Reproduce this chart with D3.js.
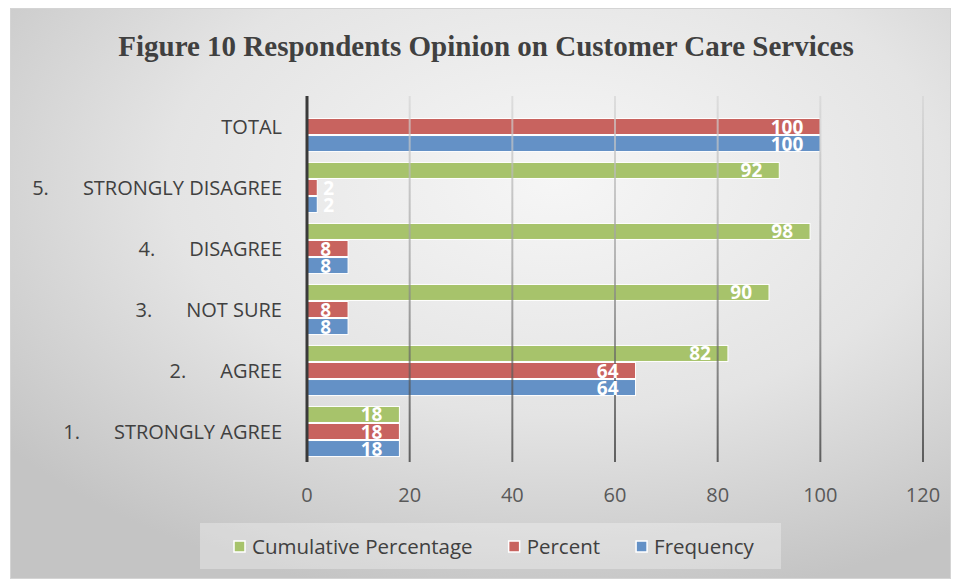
<!DOCTYPE html>
<html>
<head>
<meta charset="utf-8">
<script src="https://cdn.jsdelivr.net/npm/d3@7"></script>
<style>
  body { margin: 0; background: #fff; }
  svg { display: block; }
</style>
</head>
<body>
<div id="chart"></div>
<script>
const categories = ["TOTAL", "5.|STRONGLY DISAGREE", "4.|DISAGREE", "3.|NOT SURE", "2.|AGREE", "1.|STRONGLY AGREE"]
const seriesNames = ["Cumulative Percentage", "Percent", "Frequency"]
const cumulative = [null, 92, 98, 90, 82, 18]
const percent = [100, 2, 8, 8, 64, 18]
const frequency = [100, 2, 8, 8, 64, 18]
const xTicks = [0, 20, 40, 60, 80, 100, 120]
const colors = ["#a7c36b", "#c8635f", "#6491c6"]

const W = 959, H = 581
const font = "'Open Sans', sans-serif"

const svg = d3.select("#chart").append("svg").attr("width", W).attr("height", H)
const defs = svg.append("defs")

const bg = defs.append("radialGradient").attr("id", "bg")
  .attr("cx", "58%").attr("cy", "30%").attr("r", "75%")
bg.append("stop").attr("offset", "0%").attr("stop-color", "#f6f6f6")
bg.append("stop").attr("offset", "55%").attr("stop-color", "#e4e4e4")
bg.append("stop").attr("offset", "100%").attr("stop-color", "#c4c4c4")

const grid = defs.append("linearGradient").attr("id", "grid")
  .attr("x1", 0).attr("y1", 0).attr("x2", 0).attr("y2", 1)
grid.append("stop").attr("offset", "0%").attr("stop-color", "#d6d6d6")
grid.append("stop").attr("offset", "45%").attr("stop-color", "#9a9a9a")
grid.append("stop").attr("offset", "100%").attr("stop-color", "#2a2a2a")

const blur = defs.append("filter").attr("id", "soft")
blur.append("feGaussianBlur").attr("stdDeviation", 1.5)

svg.append("rect")
  .attr("x", 10.5).attr("y", 8.5).attr("width", 940).attr("height", 570)
  .attr("fill", "url(#bg)").attr("stroke", "#d4d4d4")

svg.append("text")
  .attr("x", 486).attr("y", 56)
  .attr("text-anchor", "middle")
  .attr("font-family", "'Liberation Serif', 'Times New Roman', serif")
  .attr("font-weight", "bold")
  .attr("font-size", 29)
  .attr("fill", "#404040")
  .text("Figure 10 Respondents Opinion on Customer Care Services")

const x = d3.scaleLinear().domain([0, 120]).range([307, 923])
const y0 = d3.scaleBand().domain(categories).range([96, 462])
const y1 = d3.scaleBand().domain(seriesNames).range([0, y0.bandwidth()])
  .paddingInner(0.06).paddingOuter(0.32)

const seriesValues = [cumulative, percent, frequency]
const rows = []
categories.forEach((c, i) => {
  seriesNames.forEach((s, j) => {
    const v = seriesValues[j][i]
    if (v !== null) rows.push({ cat: c, series: s, value: v, color: colors[j] })
  })
})

// gridline shadows
svg.append("g")
  .selectAll("line")
  .data(xTicks.slice(1))
  .enter()
  .append("line")
  .attr("x1", (d) => x(d) + 1.5).attr("x2", (d) => x(d) + 1.5)
  .attr("y1", 96).attr("y2", 462)
  .attr("stroke", "#ffffff").attr("stroke-opacity", 0.7)
  .attr("stroke-width", 6).attr("filter", "url(#soft)")

svg.append("g")
  .selectAll("rect")
  .data(rows)
  .enter()
  .append("rect")
  .attr("x", x(0))
  .attr("y", (d) => y0(d.cat) + y1(d.series))
  .attr("width", (d) => x(d.value) - x(0))
  .attr("height", y1.bandwidth())
  .attr("fill", (d) => d.color)
  .attr("stroke", "#ffffff")
  .attr("stroke-width", 1)

// gridlines drawn over bars, semi transparent
svg.append("g")
  .selectAll("rect")
  .data(xTicks.slice(1))
  .enter()
  .append("rect")
  .attr("x", (d) => x(d) - 1)
  .attr("y", 96)
  .attr("width", 2)
  .attr("height", 366)
  .attr("fill", "url(#grid)")
  .attr("opacity", 0.7)

svg.append("line")
  .attr("x1", x(0)).attr("x2", x(0))
  .attr("y1", 96).attr("y2", 462)
  .attr("stroke", "#3a3a3a").attr("stroke-width", 3)

svg.append("g")
  .selectAll("text")
  .data(rows)
  .enter()
  .append("text")
  .attr("x", (d) => (x(d.value) - x(0) > 30 ? x(d.value) - 17 : x(d.value) + 6))
  .attr("y", (d) => y0(d.cat) + y1(d.series) + y1.bandwidth() / 2 + 7)
  .attr("text-anchor", (d) => (x(d.value) - x(0) > 30 ? "end" : "start"))
  .attr("font-family", font)
  .attr("font-weight", "bold")
  .attr("font-size", 19)
  .attr("fill", "#ffffff")
  .text((d) => d.value)

const catG = svg.append("g")
categories.forEach((c) => {
  const parts = c.split("|")
  const cy = y0(c) + y0.bandwidth() / 2 + 7
  const word = catG.append("text")
    .attr("x", 282).attr("y", cy)
    .attr("text-anchor", "end")
    .attr("font-family", font).attr("font-size", 20)
    .attr("fill", "#404040")
    .text(parts[parts.length - 1])
  if (parts.length > 1) {
    const w = word.node().getComputedTextLength()
    catG.append("text")
      .attr("x", 282 - w - 34).attr("y", cy)
      .attr("text-anchor", "end")
      .attr("font-family", font).attr("font-size", 20)
      .attr("fill", "#404040")
      .text(parts[0])
  }
})

svg.append("g")
  .selectAll("text")
  .data(xTicks)
  .enter()
  .append("text")
  .attr("x", (d) => x(d))
  .attr("y", 502)
  .attr("text-anchor", "middle")
  .attr("font-family", font).attr("font-size", 20)
  .attr("fill", "#595959")
  .text((d) => d)

// legend
svg.append("rect")
  .attr("x", 200).attr("y", 523).attr("width", 581).attr("height", 46)
  .attr("fill", "#ffffff").attr("fill-opacity", 0.3)

const legend = svg.append("g")
let lx = 234
seriesNames.forEach((s, j) => {
  legend.append("rect")
    .attr("x", lx).attr("y", 541).attr("width", 11).attr("height", 11)
    .attr("fill", colors[j]).attr("stroke", "#ffffff").attr("stroke-width", 1.5)
  const t = legend.append("text")
    .attr("x", lx + 18).attr("y", 554)
    .attr("font-family", font).attr("font-size", 20.5)
    .attr("fill", "#404040")
    .text(s)
  lx += 18 + t.node().getComputedTextLength() + 36
})
</script>
</body>
</html>
